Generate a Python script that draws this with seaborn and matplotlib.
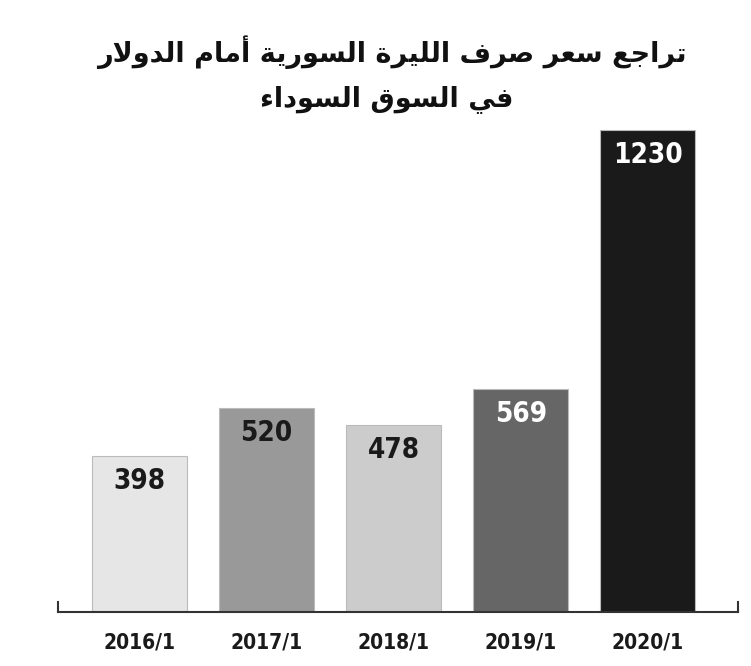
import numpy as np
import matplotlib
matplotlib.use("Agg")
import matplotlib.pyplot as plt
import seaborn as sns
import pandas as pd
from matplotlib import font_manager

# data
title_line1 = "تراجع سعر صرف الليرة السورية أمام الدولار"
title_line2 = "في السوق السوداء"
years = ["2016/1", "2017/1", "2018/1", "2019/1", "2020/1"]
rates = [398, 520, 478, 569, 1230]
bar_colors = ["#e6e6e6", "#999999", "#cccccc", "#666666", "#1a1a1a"]
label_colors = ["#1a1a1a", "#1a1a1a", "#1a1a1a", "#ffffff", "#ffffff"]

# small arabic shaper: presentation forms (isolated, final, initial, medial)
FORMS = {
    "ا": ("\uFE8D", "\uFE8E", None, None),
    "أ": ("\uFE83", "\uFE84", None, None),
    "ت": ("\uFE95", "\uFE96", "\uFE97", "\uFE98"),
    "ر": ("\uFEAD", "\uFEAE", None, None),
    "ج": ("\uFE9D", "\uFE9E", "\uFE9F", "\uFEA0"),
    "ع": ("\uFEC9", "\uFECA", "\uFECB", "\uFECC"),
    "س": ("\uFEB1", "\uFEB2", "\uFEB3", "\uFEB4"),
    "ص": ("\uFEB9", "\uFEBA", "\uFEBB", "\uFEBC"),
    "ف": ("\uFED1", "\uFED2", "\uFED3", "\uFED4"),
    "ل": ("\uFEDD", "\uFEDE", "\uFEDF", "\uFEE0"),
    "ي": ("\uFEF1", "\uFEF2", "\uFEF3", "\uFEF4"),
    "ة": ("\uFE93", "\uFE94", None, None),
    "و": ("\uFEED", "\uFEEE", None, None),
    "م": ("\uFEE1", "\uFEE2", "\uFEE3", "\uFEE4"),
    "د": ("\uFEA9", "\uFEAA", None, None),
    "ء": ("\uFE80", None, None, None),
    "ق": ("\uFED5", "\uFED6", "\uFED7", "\uFED8"),
}
LAM_ALEF = {"ا": ("\uFEFB", "\uFEFC"), "أ": ("\uFEF7", "\uFEF8")}


def joins_left(ch):
    return ch in FORMS and FORMS[ch][2] is not None


def joins_right(ch):
    return ch in FORMS and FORMS[ch][1] is not None


def shape(text):
    # merge lam-alef first
    chars = []
    i = 0
    while i < len(text):
        if text[i] == "ل" and i + 1 < len(text) and text[i + 1] in LAM_ALEF:
            chars.append(("LA", text[i + 1]))
            i += 2
        else:
            chars.append(("C", text[i]))
            i += 1
    out = []
    for k, (kind, ch) in enumerate(chars):
        prev = chars[k - 1] if k > 0 else None
        nxt = chars[k + 1] if k + 1 < len(chars) else None
        prev_joins = prev is not None and prev[0] == "C" and joins_left(prev[1])
        if kind == "LA":
            out.append(LAM_ALEF[ch][1 if prev_joins else 0])
            continue
        if ch not in FORMS:
            out.append(ch)
            continue
        next_joins = nxt is not None and (nxt[0] == "LA" or joins_right(nxt[1]))
        iso, fin, ini, med = FORMS[ch]
        r = prev_joins and fin is not None
        l = next_joins and ini is not None
        if r and l:
            out.append(med)
        elif r:
            out.append(fin)
        elif l:
            out.append(ini)
        else:
            out.append(iso)
    return "".join(out)[::-1]


sns.set_theme(style="white")
plt.rcParams["font.family"] = ["DejaVu Sans"]

# pick a narrow bold face if one is installed
names = {f.name for f in font_manager.fontManager.ttflist}
narrow = [n for n in ["DejaVu Sans Condensed", "Liberation Sans Narrow"] if n in names]
narrow = narrow + ["DejaVu Sans"]

df = pd.DataFrame({"year": years, "rate": rates})

fig = plt.figure(figsize=(7.51, 6.66), dpi=100)
ax = fig.add_axes([58 / 751, 54 / 666, 680 / 751, 509.6 / 666])

sns.barplot(data=df, x="year", y="rate", hue="year", palette=bar_colors,
            legend=False, width=0.75, edgecolor="#bbbbbb", linewidth=0.8, ax=ax)

ax.set_xlim(-0.64, 4.71)
ax.set_ylim(0, 1300)
ax.set_xlabel("")
ax.set_ylabel("")
ax.set_yticks([])

ax.spines["top"].set_visible(False)
for spine in ["bottom", "left", "right"]:
    ax.spines[spine].set_color("#333333")
    ax.spines[spine].set_linewidth(1.5)
ax.spines["left"].set_bounds(0, 25)
ax.spines["right"].set_bounds(0, 25)

ax.tick_params(axis="x", length=0, pad=15)
for lab in ax.get_xticklabels():
    lab.set_fontfamily(narrow)
    lab.set_fontstretch("condensed")
    lab.set_fontweight("bold")
    lab.set_fontsize(15)
    lab.set_color("#1a1a1a")

for i, (v, c) in enumerate(zip(rates, label_colors)):
    ax.annotate(str(v), xy=(i, v), xytext=(0, -8), textcoords="offset points",
                ha="center", va="top", fontsize=20, fontweight="bold",
                family=narrow, fontstretch="condensed", color=c)

fig.text(0.522, 0.922, shape(title_line1), ha="center", va="center",
         fontsize=19.5, fontweight="bold", color="#111111")
fig.text(0.515, 0.852, shape(title_line2), ha="center", va="center",
         fontsize=19.5, fontweight="bold", color="#111111")

fig.savefig("out.png", dpi=100)
